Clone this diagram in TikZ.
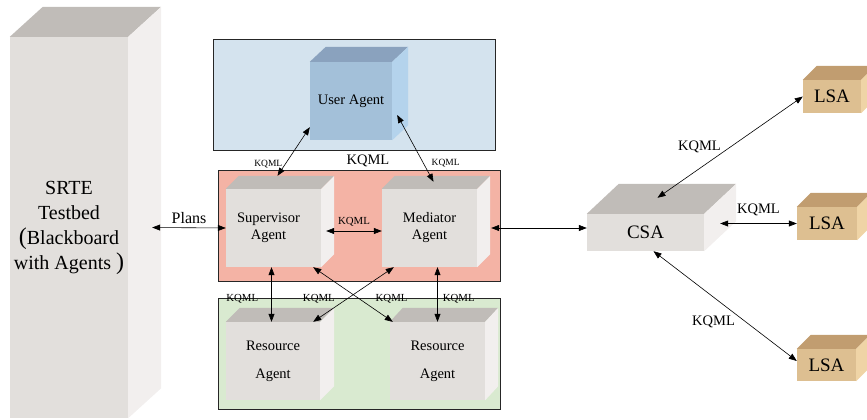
\documentclass[tikz,border=0pt]{standalone}
\usepackage{fontspec}
\setmainfont{Liberation Serif}
\newfontfamily\timesfont{Liberation Serif}
\usetikzlibrary{arrows.meta}

\definecolor{facegray}{HTML}{E2DFDC}
\definecolor{topgray}{HTML}{C0BCB8}
\definecolor{sidegray}{HTML}{F2EFEE}
\definecolor{faceblue}{HTML}{A3C0D9}
\definecolor{topblue}{HTML}{8AA2BE}
\definecolor{sideblue}{HTML}{B4D3EC}
\definecolor{facesand}{HTML}{DDBF91}
\definecolor{topsand}{HTML}{C19D70}
\definecolor{sidesand}{HTML}{EFD4A6}
\definecolor{userpanel}{HTML}{D4E3EE}
\definecolor{superpanel}{HTML}{F4B3A5}
\definecolor{resourcepanel}{HTML}{D9EAD0}

% top and right faces of a box whose front face is the node #1
\newcommand{\boxsides}[5]{%
  \fill[#4] (#1.north west) -- ++(#2,-#3) -- ([shift={(#2,-#3)}]#1.north east)
    -- (#1.north east) -- cycle;
  \fill[#5] (#1.north east) -- ++(#2,-#3) -- ([shift={(#2,-#3)}]#1.south east)
    -- (#1.south east) -- cycle;}

\begin{document}
\begin{tikzpicture}[x=1pt, y=-1pt,
      >={Triangle[length=8pt,width=6pt]},
      panel/.style={draw=black!85, line width=0.6pt, inner sep=0pt},
      agent/.style={inner sep=0pt, align=center,
        font=\timesfont\fontsize{14.5}{17}\selectfont},
      link/.style={<->, line width=0.6pt},
      lbltiny/.style={inner sep=0pt, font=\timesfont\fontsize{9.5}{11}\selectfont},
      lblsmall/.style={inner sep=0pt, font=\timesfont\fontsize{10.8}{12}\selectfont},
      lblbig/.style={inner sep=0pt, font=\timesfont\fontsize{14.5}{16}\selectfont}]
    \useasboundingbox (0,0) rectangle (867,420);

    % group panels
    \node[panel, fill=userpanel, minimum width=282pt, minimum height=111pt]
      (userbox) at (354,94.5) {};
    \node[panel, fill=superpanel, minimum width=282pt, minimum height=111pt]
      (superbox) at (359,225.5) {};
    \node[panel, fill=resourcepanel, minimum width=282pt, minimum height=111pt]
      (resourcebox) at (359,353.5) {};

    % blackboard
    \node[agent, fill=facegray, minimum width=118pt, minimum height=381pt,
      font=\timesfont\fontsize{20}{25}\selectfont] (srte) at (69,227.5)
      {SRTE\\Testbed\\{\fontsize{24}{25}\selectfont(}Blackboard\\
       with Agents {\fontsize{24}{25}\selectfont)}};
    \boxsides{srte}{33}{30}{topgray}{sidegray}

    % agents
    \node[agent, fill=faceblue, minimum width=82pt, minimum height=78pt]
      (user) at (351,101) {\raisebox{-4pt}{User Agent}};
    \boxsides{user}{16}{15}{topblue}{sideblue}
    \node[agent, fill=facegray, minimum width=95pt, minimum height=78pt]
      (sup) at (273.5,228) {Supervisor\hspace*{10pt}\\Agent\hspace*{10pt}};
    \boxsides{sup}{13}{13}{topgray}{sidegray}
    \node[agent, fill=facegray, minimum width=95pt, minimum height=78pt]
      (med) at (429.5,228) {Mediator\\Agent};
    \boxsides{med}{13}{13}{topgray}{sidegray}
    \node[agent, fill=facegray, minimum width=94pt, minimum height=78pt,
      font=\timesfont\fontsize{14.5}{28}\selectfont] (res1) at (273,361) {Resource\\Agent};
    \boxsides{res1}{14}{14}{topgray}{sidegray}
    \node[agent, fill=facegray, minimum width=95pt, minimum height=78pt,
      font=\timesfont\fontsize{14.5}{28}\selectfont] (res2) at (437.5,361) {Resource\\Agent};
    \boxsides{res2}{13}{14}{topgray}{sidegray}

    % CSA and LSAs
    \node[agent, fill=facegray, minimum width=117pt, minimum height=37pt,
      font=\timesfont\fontsize{19}{21}\selectfont] (csa) at (645.5,232.5)
      {\raisebox{-4pt}{CSA}};
    \boxsides{csa}{32}{30}{topgray}{sidegray}
    \node[agent, fill=facesand, minimum width=58pt, minimum height=33pt,
      font=\timesfont\fontsize{19}{21}\selectfont] (lsa1) at (832,96.5) {LSA};
    \boxsides{lsa1}{14}{14}{topsand}{sidesand}
    \node[agent, fill=facesand, minimum width=60pt, minimum height=33pt,
      font=\timesfont\fontsize{19}{21}\selectfont] (lsa2) at (827,223.5) {LSA};
    \boxsides{lsa2}{14}{14}{topsand}{sidesand}
    \node[agent, fill=facesand, minimum width=59pt, minimum height=32pt,
      font=\timesfont\fontsize{19}{21}\selectfont] (lsa3) at (826.5,365) {LSA};
    \boxsides{lsa3}{14}{14}{topsand}{sidesand}

    \node[lblbig] (kqmltop) at (368,161) {KQML};

    % connectors
    \coordinate (srteside) at ([xshift=24pt]srte.east);
    \draw[link] (srteside) -- (sup.west)
      node[midway, above=4pt, inner sep=0pt,
        font=\timesfont\fontsize{16}{18}\selectfont] {Plans};
    \draw[link] ([xshift=5pt,yshift=-3pt]sup.east) -- ([yshift=-3pt]med.west)
      node[lblsmall, midway, above=4pt] {KQML};
    \coordinate (medside) at ([xshift=14pt]med.east);
    \draw[link] (medside) -- (medside -| csa.west);

    \draw[link] ([xshift=4pt,yshift=13pt]sup.north) -- ([yshift=13pt]user.south west)
      node[lbltiny, pos=0.25, left=3pt] {KQML};
    \draw[link] ([xshift=4pt,yshift=7pt]med.north) -- ([xshift=5pt,yshift=-14pt]user.east)
      node[lbltiny, pos=0.28, right=8pt] {KQML};

    \coordinate (supfoot) at ([xshift=-2pt]sup.south);
    \draw[link] (supfoot) -- (supfoot |- res1.north)
      node[lblsmall, pos=0.58, left=13pt] {KQML};
    \draw[link] ([xshift=12pt]med.south west) -- ([xshift=-7pt]res1.north east)
      node[lblsmall, pos=0.58, left=12pt] {KQML};
    \draw[link] ([xshift=-8pt]sup.south east) -- ([xshift=3pt]res2.north west)
      node[lblsmall, pos=0.58, right=16pt] {KQML};
    \draw[link] (res2.north |- med.south) -- (res2.north)
      node[lblsmall, pos=0.58, right=5pt] {KQML};

    \draw[link] ([xshift=12pt,yshift=16pt]csa.north) -- (lsa1.west)
      node[lblbig, pos=0.5, left=9pt] {KQML};
    \coordinate (csaside) at ([xshift=16pt]csa.east);
    \draw[link] (csaside |- lsa2.west) -- (lsa2.west)
      node[lblbig, midway, above=7pt] {KQML};
    \draw[link] ([xshift=8pt]csa.south) -- ([yshift=4pt]lsa3.west)
      node[lblbig, pos=0.64, left=10pt] {KQML};
  \end{tikzpicture}
\end{document}
